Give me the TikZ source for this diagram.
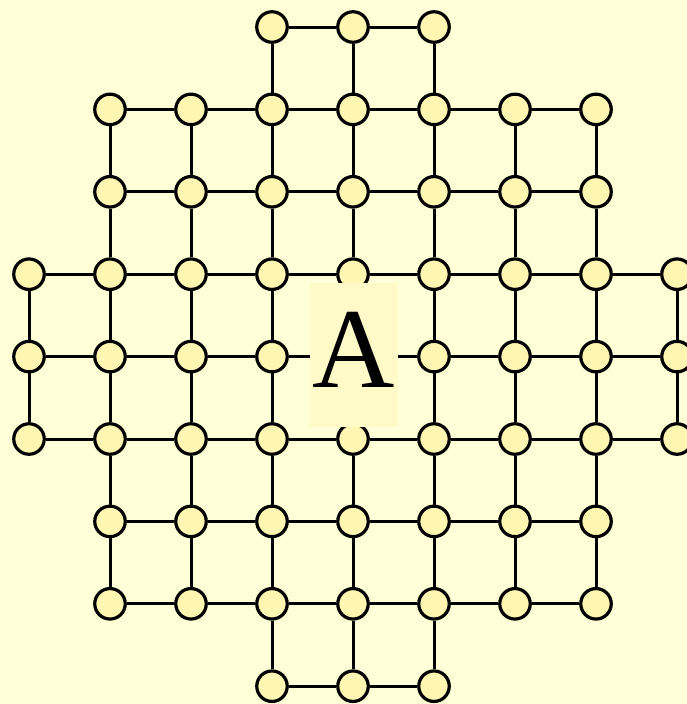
\documentclass[tikz,border=0pt]{standalone}
\usepackage{fontspec}
\setmainfont{Liberation Serif}
\pgfdeclarelayer{bglayer}
\pgfdeclarelayer{edges}
\pgfsetlayers{bglayer,edges,main}
\definecolor{bgcol}{RGB}{255,255,216}
\definecolor{dotcol}{RGB}{255,246,178}
\definecolor{boxcol}{RGB}{255,250,200}
\tikzset{
  dot/.style={circle, draw=black, line width=3.2pt, fill=dotcol, minimum size=30.5pt, inner sep=0pt},
  link/.style={draw=black, line width=3pt},
  labelbox/.style={fill=boxcol, minimum width=88pt, minimum height=144pt, inner sep=0pt, text depth=11pt, font=\fontsize{114}{114}\selectfont}
}
\begin{document}
\begin{tikzpicture}[x=1pt,y=-1pt]
\begin{pgfonlayer}{bglayer}
\fill[bgcol] (0,0) rectangle (687,704);
\end{pgfonlayer}
\useasboundingbox (0,0) rectangle (687,704);
% nodes
\foreach \r/\a/\b in {0/3/5,1/1/7,2/1/7,3/0/8,4/0/8,5/0/8,6/1/7,7/1/7,8/3/5}{
  \foreach \c in {\a,...,\b}{
    \node[dot] (n\r-\c) at ({29+81*\c},{27+82.4*\r}) {};
  }
}
% edges
\begin{pgfonlayer}{edges}
\foreach \r/\a/\b in {0/3/5,1/1/7,2/1/7,3/0/8,4/0/8,5/0/8,6/1/7,7/1/7,8/3/5}{
  \pgfmathtruncatemacro{\bb}{\b-1}
  \foreach \c in {\a,...,\bb}{
    \pgfmathtruncatemacro{\d}{\c+1}
    \draw[link] (n\r-\c) -- (n\r-\d);
  }
}
\foreach \c/\a/\b in {0/3/5,1/1/7,2/1/7,3/0/8,4/0/8,5/0/8,6/1/7,7/1/7,8/3/5}{
  \pgfmathtruncatemacro{\bb}{\b-1}
  \foreach \r in {\a,...,\bb}{
    \pgfmathtruncatemacro{\s}{\r+1}
    \draw[link] (n\r-\c) -- (n\s-\c);
  }
}
\end{pgfonlayer}
% label
\node[labelbox] (lbl) at (354,355) {A};
\end{tikzpicture}
\end{document}
